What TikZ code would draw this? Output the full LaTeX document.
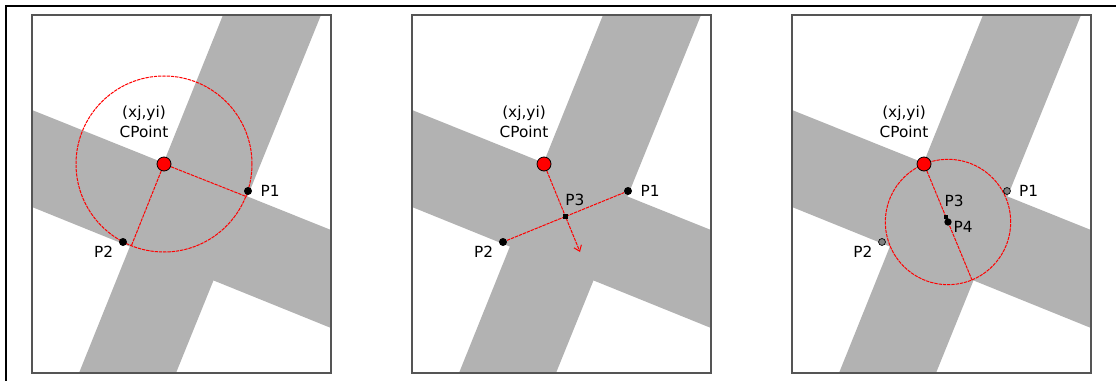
\documentclass[tikz,border=0pt]{standalone}
\usepackage{fontspec}
\setmainfont{DejaVu Sans}
\usetikzlibrary{positioning,arrows.meta}
\definecolor{bandgray}{RGB}{178,178,178}
\definecolor{framegray}{RGB}{85,85,85}
\pgfdeclarelayer{bg}
\pgfdeclarelayer{mid}
\pgfsetlayers{bg,mid,main}
\tikzset{
    frame/.style = {
        line width=1.8pt,
        black
    },
    panel/.style = {
        draw=framegray,
        line width=0.9pt
    },
    band/.style = {
        fill=bandgray
    },
    guide/.style = {
        red,
        line width=0.75pt,
        dash pattern=on 2.5pt off 0.7pt
    },
    cpoint/.style = {
        circle, draw=black, line width=0.6pt, fill=red,
        inner sep=0pt, minimum size=10.5pt
    },
    pnt/.style = {
        circle, fill=black, inner sep=0pt, minimum size=6pt
    },
    oldpnt/.style = {
        circle, draw=black, fill=gray, line width=0.5pt,
        inner sep=0pt, minimum size=5.2pt
    },
    foot/.style = {
        rectangle, fill=black, inner sep=0pt, minimum size=3.2pt
    },
    lbl/.style = {
        font=\fontsize{11.5}{15}\selectfont,
        inner sep=1pt
    }
}

\begin{document}
\begin{tikzpicture}[x=0.75pt, y=-0.75pt]
    \useasboundingbox (0,0) rectangle (1116,381);
    % Draw outer frame
    \draw[frame] (6,381) -- (6,6) -- (1116,6);

    % Draw the three panels with the crossing bands
    \begin{pgfonlayer}{bg}
    \foreach \px in {32,412,792} {
        \begin{scope}[shift={(\px,15)}]
            \fill[band] (47,358) -- (191,0) -- (289,0) -- (144,358) -- cycle;
            \fill[band] (0,95) -- (299,215) -- (299,313) -- (0,192) -- cycle;
            \draw[panel] (0,0) rectangle (299,358);
        \end{scope}
    }
    \end{pgfonlayer}

    % Panel 1: circle round CPoint
    \begin{scope}[shift={(32,15)}]
        \node[cpoint] (c1) at (132,149) {};
        \node[pnt] (p1a) at (216,176) {};
        \node[pnt] (p2a) at (91,227) {};
        \coordinate (r1) at (214.7,181.7);
        \coordinate (r2) at (99.4,230.7);
        \node[lbl, align=center] (t1) at (112,107) {(xj,yi)\\CPoint};
        \node[lbl, right=5pt of p1a] {P1};
        \node[lbl, below left=0pt and 4pt of p2a] {P2};
        \begin{pgfonlayer}{mid}
            \draw[guide] (c1.center) circle[radius=66pt];
            \draw[guide] (c1) -- (r1);
            \draw[guide] (c1) -- (r2);
        \end{pgfonlayer}
    \end{scope}

    % Panel 2: foot of the perpendicular
    \begin{scope}[shift={(412,15)}]
        \node[cpoint] (c2) at (132,149) {};
        \node[pnt] (p1b) at (216,176) {};
        \node[pnt] (p2b) at (91,227) {};
        \node[foot] (p3b) at (153.5,201.5) {};
        \coordinate (tip) at (168,237);
        \node[lbl, align=center] (t2) at (112,107) {(xj,yi)\\CPoint};
        \node[lbl, right=5pt of p1b] {P1};
        \node[lbl, below left=0pt and 4pt of p2b] {P2};
        \node[lbl, above=5pt of p3b, xshift=7pt] {P3};
        \begin{pgfonlayer}{mid}
            \draw[guide] (p2b) -- (p1b);
            \draw[guide, -{Straight Barb[length=4pt, width=6pt]}] (c2) -- (tip);
        \end{pgfonlayer}
    \end{scope}

    % Panel 3: new circle through CPoint
    \begin{scope}[shift={(792,15)}]
        \node[cpoint] (c3) at (132,149) {};
        \node[oldpnt] (p1c) at (215,176) {};
        \node[oldpnt] (p2c) at (90,227) {};
        \node[foot] (p3c) at (154,202) {};
        \node[pnt, minimum size=5.5pt] (p4c) at (156,207) {};
        \coordinate (d3) at (180,265);
        \node[lbl, align=center] (t3) at (112,107) {(xj,yi)\\CPoint};
        \node[lbl, right=5pt of p1c] {P1};
        \node[lbl, below left=0pt and 4pt of p2c] {P2};
        \node[lbl, above=5pt of p3c, xshift=6pt] {P3};
        \node[lbl, right=0pt of p4c, yshift=-4pt] {P4};
        \begin{pgfonlayer}{mid}
            \draw[guide] (p4c.center) circle[radius=47pt];
            \draw[guide] (c3) -- (d3);
        \end{pgfonlayer}
    \end{scope}
\end{tikzpicture}
\end{document}
